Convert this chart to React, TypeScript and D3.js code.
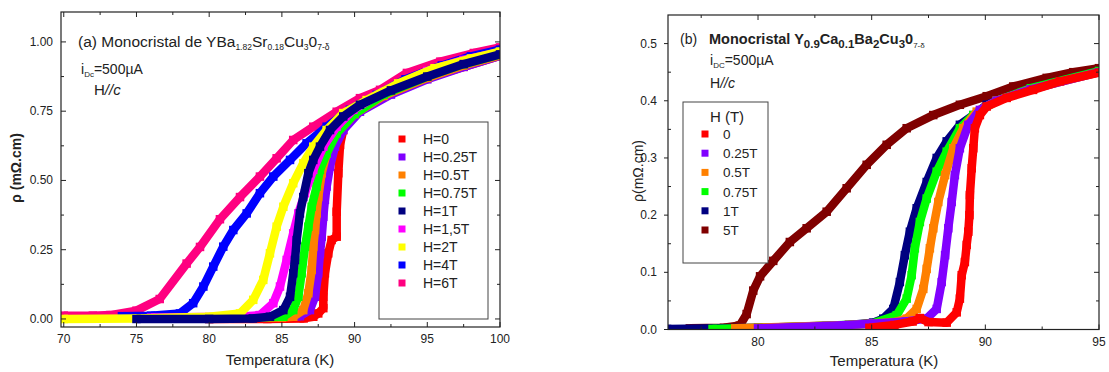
import React from "react";
import * as d3 from "d3";

type Pt = [number, number];

// ---------- panel (a): YBa1.82Sr0.18Cu3O7-d ----------
const aH0: Pt[] = [[80, 0.0], [84, 0.0], [86.5, 0.002], [87.16, 0.008], [87.5, 0.02], [87.85, 0.039], [87.85, 0.08], [87.96, 0.165], [88.19, 0.237], [88.42, 0.285], [88.77, 0.297], [88.77, 0.387], [88.88, 0.526], [89.0, 0.628], [89.22, 0.682], [89.68, 0.731], [90.37, 0.767], [92.5, 0.82], [95, 0.87], [97.5, 0.91], [100, 0.95]];
const aH025: Pt[] = [[80, 0.005], [84, 0.008], [85, 0.01], [86.24, 0.01], [86.93, 0.032], [87.28, 0.08], [87.5, 0.165], [87.62, 0.237], [87.74, 0.297], [87.85, 0.369], [87.96, 0.43], [88.08, 0.478], [88.31, 0.55], [88.65, 0.622], [89.22, 0.682], [90.37, 0.748], [92.5, 0.81], [95, 0.865], [97.5, 0.91], [100, 0.95]];
const aH05: Pt[] = [[80, 0.003], [85, 0.005], [85.78, 0.008], [86.47, 0.032], [86.82, 0.093], [87.05, 0.177], [87.16, 0.261], [87.28, 0.321], [87.39, 0.381], [87.5, 0.44], [87.74, 0.526], [88.08, 0.598], [88.54, 0.658], [90, 0.74], [92, 0.805], [95, 0.87], [97.5, 0.915], [100, 0.952]];
const aH075: Pt[] = [[80, 0.003], [85.1, 0.008], [85.78, 0.032], [86.13, 0.08], [86.36, 0.165], [86.59, 0.261], [86.82, 0.333], [87.05, 0.405], [87.39, 0.478], [87.62, 0.538], [88.08, 0.598], [88.77, 0.67], [90, 0.74], [92, 0.81], [95, 0.875], [97.5, 0.92], [100, 0.955]];
const aH1: Pt[] = [[75, 0.0], [80, 0.0], [83, 0.002], [84.18, 0.008], [85.1, 0.032], [85.56, 0.08], [85.78, 0.165], [85.9, 0.213], [86.02, 0.285], [86.24, 0.381], [86.47, 0.44], [86.82, 0.526], [87.16, 0.574], [87.62, 0.622], [88.31, 0.682], [89.22, 0.731], [90.37, 0.773], [92.5, 0.825], [95, 0.875], [97.5, 0.92], [100, 0.955]];
const aH15: Pt[] = [[76, 0.005], [82, 0.008], [83.49, 0.014], [84.41, 0.057], [84.87, 0.117], [85.33, 0.213], [85.78, 0.309], [86.13, 0.381], [86.59, 0.454], [87.16, 0.538], [87.85, 0.622], [88.77, 0.694], [89.91, 0.755], [92, 0.82], [95, 0.895], [97.5, 0.935], [100, 0.963]];
const aH2: Pt[] = [[70, 0.0], [75, 0.002], [80, 0.008], [82.12, 0.02], [83.03, 0.069], [83.72, 0.141], [84.18, 0.237], [84.64, 0.333], [85.1, 0.405], [85.78, 0.49], [86.47, 0.562], [87.16, 0.622], [88.08, 0.682], [89.22, 0.743], [90.83, 0.79], [93, 0.85], [95.5, 0.905], [98, 0.94], [100, 0.965]];
const aH4: Pt[] = [[74, 0.01], [76, 0.012], [77.99, 0.02], [78.9, 0.057], [79.6, 0.117], [80.28, 0.189], [80.97, 0.261], [81.66, 0.321], [82.58, 0.381], [83.49, 0.454], [84.41, 0.514], [85.56, 0.574], [86.7, 0.634], [88.08, 0.694], [89.68, 0.755], [91.52, 0.809], [93.5, 0.865], [96, 0.915], [98, 0.948], [100, 0.972]];
const aH6: Pt[] = [[70, 0.012], [72, 0.012], [73.2, 0.014], [75.0, 0.03], [76.6, 0.072], [78.45, 0.2], [79.37, 0.26], [80.74, 0.36], [82.12, 0.44], [83.49, 0.514], [84.64, 0.58], [85.78, 0.646], [87.16, 0.694], [88.77, 0.748], [90.37, 0.797], [91.75, 0.827], [93.6, 0.888], [95.9, 0.929], [98.2, 0.96], [100, 0.98]];

const aLabels = ["H=0", "H=0.25T", "H=0.5T", "H=0.75T", "H=1T", "H=1,5T", "H=2T", "H=4T", "H=6T"];
const aColors = ["#ff0000", "#8000ff", "#ff8000", "#00ff00", "#000080", "#ff00ff", "#ffff00", "#0000ff", "#ff0080"];
const aSeries = [aH0, aH025, aH05, aH075, aH1, aH15, aH2, aH4, aH6];
const aOrder = [8, 7, 0, 1, 2, 3, 5, 6, 4];
const aXTicks = [70, 75, 80, 85, 90, 95, 100];
const aYTicks = [0, 0.25, 0.5, 0.75, 1.0];

// ---------- panel (b): Y0.9Ca0.1Ba2Cu3O7-d ----------
const bH0: Pt[] = [[84.9, 0.003], [86, 0.008], [86.8, 0.014], [87.12, 0.02], [87.5, 0.013], [88.3, 0.012], [88.74, 0.03], [88.88, 0.054], [88.96, 0.095], [89.1, 0.118], [89.18, 0.148], [89.25, 0.171], [89.3, 0.2], [89.32, 0.235], [89.4, 0.282], [89.47, 0.317], [89.54, 0.352], [89.76, 0.375], [90.06, 0.39], [90.94, 0.405], [92.1, 0.419], [93.28, 0.434], [95, 0.449]];
const bH025: Pt[] = [[80, 0.002], [83, 0.006], [85, 0.01], [86.5, 0.014], [87.42, 0.019], [87.86, 0.036], [88.08, 0.083], [88.23, 0.13], [88.37, 0.177], [88.52, 0.223], [88.66, 0.27], [88.88, 0.317], [89.25, 0.358], [89.76, 0.384], [90.5, 0.4], [92, 0.42], [95, 0.45]];
const bH05: Pt[] = [[79, 0.002], [84, 0.008], [86, 0.013], [86.54, 0.019], [86.98, 0.036], [87.27, 0.071], [87.42, 0.106], [87.56, 0.142], [87.71, 0.177], [87.93, 0.223], [88.23, 0.27], [88.59, 0.317], [89.03, 0.352], [89.62, 0.381], [90.5, 0.4], [92, 0.42], [95, 0.45]];
const bH075: Pt[] = [[78, 0.001], [82, 0.005], [85, 0.01], [86.1, 0.025], [86.54, 0.054], [86.76, 0.095], [86.9, 0.142], [87.12, 0.188], [87.42, 0.229], [87.86, 0.276], [88.3, 0.311], [88.88, 0.352], [89.47, 0.375], [90.5, 0.4], [92, 0.422], [95, 0.452]];
const bH1: Pt[] = [[76, 0.001], [80, 0.003], [84, 0.008], [85.07, 0.012], [85.51, 0.019], [85.95, 0.036], [86.24, 0.083], [86.46, 0.13], [86.68, 0.171], [86.98, 0.212], [87.42, 0.258], [87.86, 0.3], [88.3, 0.329], [88.88, 0.358], [89.47, 0.375], [90.06, 0.393], [92, 0.422], [95, 0.452]];
const bH5: Pt[] = [[77, 0.002], [78.5, 0.003], [79.2, 0.007], [79.5, 0.027], [79.79, 0.068], [80.09, 0.093], [80.67, 0.12], [81.4, 0.153], [82.14, 0.177], [83.02, 0.206], [83.9, 0.247], [84.78, 0.288], [85.66, 0.323], [86.54, 0.352], [87.71, 0.375], [88.88, 0.393], [90.06, 0.408], [91.23, 0.425], [92.7, 0.44], [93.87, 0.45], [95, 0.457]];

const bLabels = ["0", "0.25T", "0.5T", "0.75T", "1T", "5T"];
const bColors = ["#ff0000", "#8000ff", "#ff8000", "#00ff00", "#000080", "#800000"];
const bSeries = [bH0, bH025, bH05, bH075, bH1, bH5];
const bOrder = [5, 4, 3, 2, 1, 0];
const bXTicks = [80, 85, 90, 95];
const bYTicks = [0, 0.1, 0.2, 0.3, 0.4, 0.5];

const FONT = "'Liberation Sans', Arial, Helvetica, sans-serif";
const INK = "#222";
const BAND = 8.5; // data markers are dense squares that merge into a thick band

const mids = (t: number[]) => t.slice(0, -1).map((v, i) => (v + t[i + 1]) / 2);

function Panel(props: any) {
  const { id, x, y, series, colors, order, xTicks, xMinorExtra, yTicks, yFmt, leftOut, xLabY, yLabX, tickSize } = props;
  const [x0, x1] = x.range();
  const [yb, yt] = y.range();
  const line = d3.line<Pt>().x((d) => x(d[0])).y((d) => y(d[1]));
  const xMinor = mids(xTicks).concat(xMinorExtra || []);
  const yMinor = mids(yTicks).concat([yTicks[yTicks.length - 1] + (yTicks[1] - yTicks[0]) / 2]);
  const M = 5, m = 3;
  return (
    <g>
      <defs>
        <clipPath id={id}>
          <rect x={x0} y={yt} width={x1 - x0} height={yb - yt} />
        </clipPath>
      </defs>
      <g clipPath={`url(#${id})`}>
        {order.map((i: number) => (
          <g key={i}>
            <path d={line(series[i]) || ""} fill="none" stroke={colors[i]} strokeWidth={BAND} strokeLinejoin="round" />
            {series[i].map((p: Pt, k: number) => (
              <rect key={k} x={x(p[0]) - BAND / 2} y={y(p[1]) - BAND / 2} width={BAND} height={BAND} fill={colors[i]} />
            ))}
          </g>
        ))}
      </g>
      <rect x={x0} y={yt} width={x1 - x0} height={yb - yt} fill="none" stroke={INK} strokeWidth={1.2} />
      <g stroke={INK} strokeWidth={1}>
        {xTicks.map((t: number) => (
          <g key={"xt" + t}>
            <line x1={x(t)} x2={x(t)} y1={yb} y2={yb - M} />
            <line x1={x(t)} x2={x(t)} y1={yt} y2={yt + M} />
          </g>
        ))}
        {xMinor.filter((t: number) => x(t) > x0 && x(t) < x1).map((t: number) => (
          <g key={"xm" + t}>
            <line x1={x(t)} x2={x(t)} y1={yb} y2={yb - m} />
            <line x1={x(t)} x2={x(t)} y1={yt} y2={yt + m} />
          </g>
        ))}
        {yTicks.map((t: number) => (
          <g key={"yt" + t}>
            <line x1={x0} x2={leftOut ? x0 - 4 : x0 + M} y1={y(t)} y2={y(t)} />
            <line x1={x1} x2={x1 - M} y1={y(t)} y2={y(t)} />
          </g>
        ))}
        {yMinor.filter((t: number) => y(t) > yt).map((t: number) => (
          <g key={"ym" + t}>
            <line x1={x0} x2={x0 + m} y1={y(t)} y2={y(t)} />
            <line x1={x1} x2={x1 - m} y1={y(t)} y2={y(t)} />
          </g>
        ))}
      </g>
      <g fontFamily={FONT} fontSize={tickSize} fill={INK}>
        {xTicks.map((t: number) => (
          <text key={"xl" + t} x={x(t)} y={xLabY} textAnchor="middle">{t}</text>
        ))}
        {yTicks.map((t: number) => (
          <text key={"yl" + t} x={yLabX} y={y(t) + 4} textAnchor="end">{yFmt(t)}</text>
        ))}
      </g>
    </g>
  );
}

export default function App() {
  const ax = d3.scaleLinear().domain([69.81, 100]).range([61, 500]);
  const ay = d3.scaleLinear().domain([-0.029, 1.108]).range([327, 12]);
  const bx = d3.scaleLinear().domain([76.04, 95]).range([668, 1099]);
  const by = d3.scaleLinear().domain([0, 0.55]).range([329.5, 15]);

  return (
    <svg width={1109} height={372} style={{ position: "absolute", left: 0, top: 0, background: "#fff" }}>
      <rect width={1109} height={372} fill="#fff" />
      <Panel id="clipA" x={ax} y={ay} series={aSeries} colors={aColors} order={aOrder}
        xTicks={aXTicks} yTicks={aYTicks} yFmt={d3.format(".2f")} leftOut={false}
        xLabY={343} yLabX={53} tickSize={12} />
      <Panel id="clipB" x={bx} y={by} series={bSeries} colors={bColors} order={bOrder}
        xTicks={bXTicks} xMinorExtra={[77.5]} yTicks={bYTicks} yFmt={d3.format(".1f")} leftOut={true}
        xLabY={346} yLabX={657} tickSize={12} />

      <g fontFamily={FONT} fill={INK}>
        {/* panel (a) annotations */}
        <text x={78} y={47} fontSize={15.5}>
          (a) Monocristal de YBa<tspan fontSize={8.5} dy={3}>1.82</tspan>
          <tspan dy={-3}>Sr</tspan><tspan fontSize={8.5} dy={3}>0.18</tspan>
          <tspan dy={-3}>Cu</tspan><tspan fontSize={8.5} dy={3}>3</tspan>
          <tspan dy={-3}>0</tspan><tspan fontSize={8.5} dy={3}>7-δ</tspan>
        </text>
        <text x={81} y={74} fontSize={14}>
          i<tspan fontSize={8} dy={3}>Dc</tspan><tspan dy={-3}>=500µA</tspan>
        </text>
        <text x={94} y={95} fontSize={15}>
          H<tspan fontStyle="italic">//c</tspan>
        </text>
        <text x={280} y={365} fontSize={15} textAnchor="middle">Temperatura (K)</text>
        <text transform="translate(21,168) rotate(-90)" fontSize={14} fontWeight="bold" textAnchor="middle">ρ (mΩ.cm)</text>

        <rect x={379} y={122} width={109} height={197} fill="#fff" stroke="#444" strokeWidth={1} />
        {aLabels.map((l, i) => (
          <g key={l}>
            <rect x={398.5} y={135.5 + i * 18} width={7} height={7} fill={aColors[i]} />
            <text x={423} y={144 + i * 18} fontSize={14}>{l}</text>
          </g>
        ))}

        {/* panel (b) annotations */}
        <text x={680} y={44} fontSize={14}>(b)</text>
        <text x={709} y={44} fontSize={14.5} fontWeight="bold">
          Monocristal Y<tspan fontSize={11.5} dy={4}>0.9</tspan>
          <tspan dy={-4}>Ca</tspan><tspan fontSize={11.5} dy={4}>0.1</tspan>
          <tspan dy={-4}>Ba</tspan><tspan fontSize={11.5} dy={4}>2</tspan>
          <tspan dy={-4}>Cu</tspan><tspan fontSize={11.5} dy={4}>3</tspan>
          <tspan dy={-4}>0</tspan><tspan fontSize={8} fontWeight="normal" dy={4}>7-δ</tspan>
        </text>
        <text x={710} y={65} fontSize={14}>
          i<tspan fontSize={8} dy={3}>DC</tspan><tspan dy={-3}>=500µA</tspan>
        </text>
        <text x={710} y={88} fontSize={14}>
          H<tspan fontStyle="italic">//c</tspan>
        </text>
        <text x={884} y={366} fontSize={15} textAnchor="middle">Temperatura (K)</text>
        <text transform="translate(643,171) rotate(-90)" fontSize={14} textAnchor="middle">ρ(mΩ.cm)</text>

        <rect x={683} y={102} width={85} height={161} fill="#fff" stroke="#444" strokeWidth={1} />
        <text x={727} y={122} fontSize={15} textAnchor="middle">H (T)</text>
        {bLabels.map((l, i) => (
          <g key={l}>
            <rect x={701.5} y={130.5 + i * 19.2} width={7} height={7} fill={bColors[i]} />
            <text x={723} y={139 + i * 19.2} fontSize={13.5}>{l}</text>
          </g>
        ))}
      </g>
    </svg>
  );
}
